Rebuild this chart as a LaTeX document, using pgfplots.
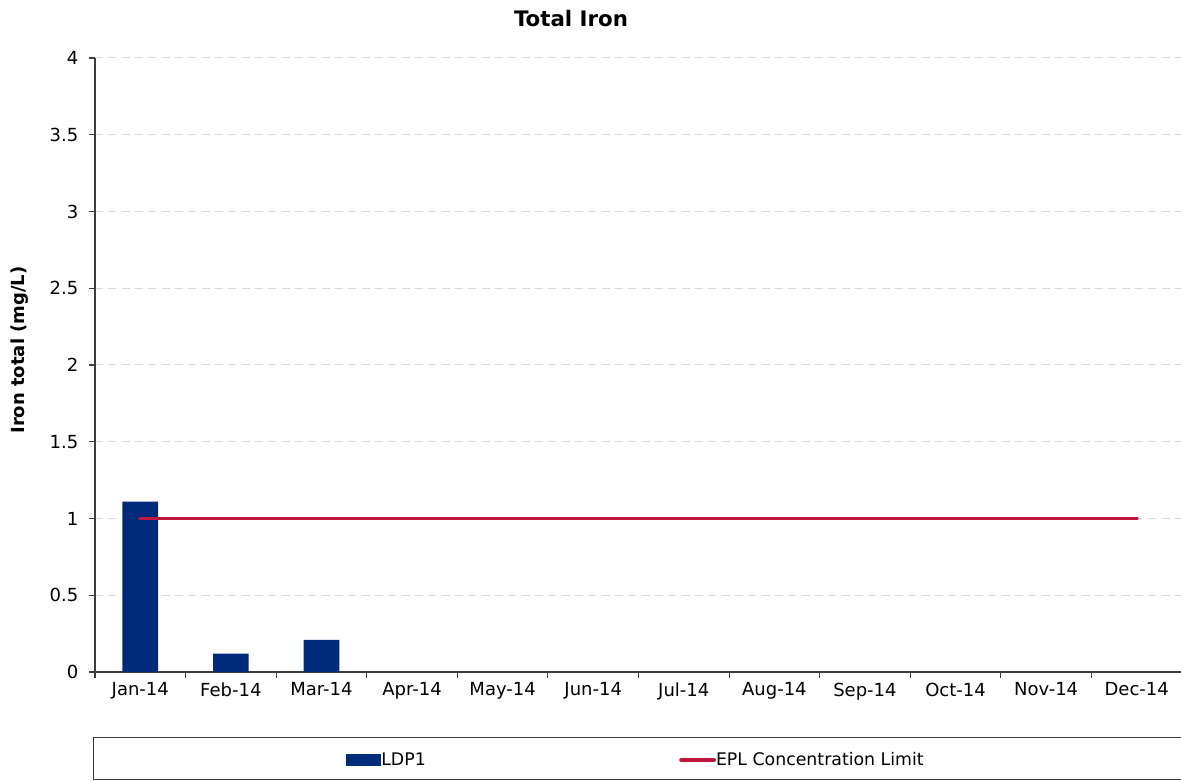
\documentclass[border=0pt]{standalone}
\usepackage{fontspec}
\setmainfont{DejaVu Sans}
\usepackage{pgfplots}
\pgfplotsset{compat=1.18}

\definecolor{barblue}{RGB}{0,42,122}
\definecolor{limitred}{RGB}{192,22,60}
\definecolor{axisgray}{RGB}{60,60,60}
\definecolor{gridgray}{RGB}{217,217,217}

\begin{document}
\begin{tikzpicture}[x=1pt,y=1pt]
  \begin{axis}[
      at={(71.25pt,81.75pt)}, anchor=south west,
      scale only axis,
      width=815.25pt, height=460.5pt,
      xmin=-0.5, xmax=11.5,
      ymin=0, ymax=4,
      axis x line*=bottom,
      axis y line*=left,
      axis line style={draw=axisgray, line width=0.8pt, -},
      tick align=outside,
      major tick length=4.5pt,
      minor tick length=4.5pt,
      tick style={draw=axisgray, line width=0.8pt},
      xtick={0,...,11},
      xticklabels={Jan-14,Feb-14,Mar-14,Apr-14,May-14,Jun-14,Jul-14,Aug-14,Sep-14,Oct-14,Nov-14,Dec-14},
      major x tick style={draw=none},
      minor xtick={-0.5,0.5,...,11.5},
      ytick={0,0.5,1,1.5,2,2.5,3,3.5,4},
      ymajorgrids,
      grid style={draw=gridgray, line width=0.75pt, dash pattern=on 6pt off 4pt},
      ticklabel style={font=\fontsize{13.5}{16}\selectfont},
      yticklabel style={xshift=-4.5pt},
      /pgf/number format/assume math mode=true,
      legend columns=2,
      legend style={at={(0.4968,-0.1433)}, anchor=center, draw=none, fill=none,
        font=\fontsize{13}{15}\selectfont,
        /tikz/every even column/.append style={column sep=190pt},
        nodes={inner sep=0pt}},
    ]
    \addplot[ybar, bar width=26.7pt, fill=barblue, draw=none,
      legend image code/.code={\fill[barblue] (0pt,-4.5pt) rectangle (26.25pt,4.5pt);}]
      coordinates {(0,1.11)(1,0.12)(2,0.21)};
    \addlegendentry{LDP1}
    \addplot[draw=limitred, line width=2.9pt, line cap=round,
      legend image code/.code={\draw[limitred, line width=2.9pt] (0pt,0pt) -- (24.75pt,0pt);}]
      coordinates {(0,1)(1,1)(2,1)(3,1)(4,1)(5,1)(6,1)(7,1)(8,1)(9,1)(10,1)(11,1)};
    \addlegendentry{EPL Concentration Limit}
  \end{axis}
  \node[anchor=base, font=\bfseries\fontsize{16}{19}\selectfont] at (428.25pt,565.7pt) {Total Iron};
  \node[rotate=90, anchor=center, font=\bfseries\fontsize{13.5}{16}\selectfont] at (15pt,323.25pt) {Iron total (mg/L)};
  \draw[axisgray, line width=0.75pt] (69.75pt,0.75pt) rectangle (890pt,32.8pt);
  \pgfresetboundingbox
  \useasboundingbox (0pt,0pt) rectangle (885.75pt,585.75pt);
\end{tikzpicture}
\end{document}
